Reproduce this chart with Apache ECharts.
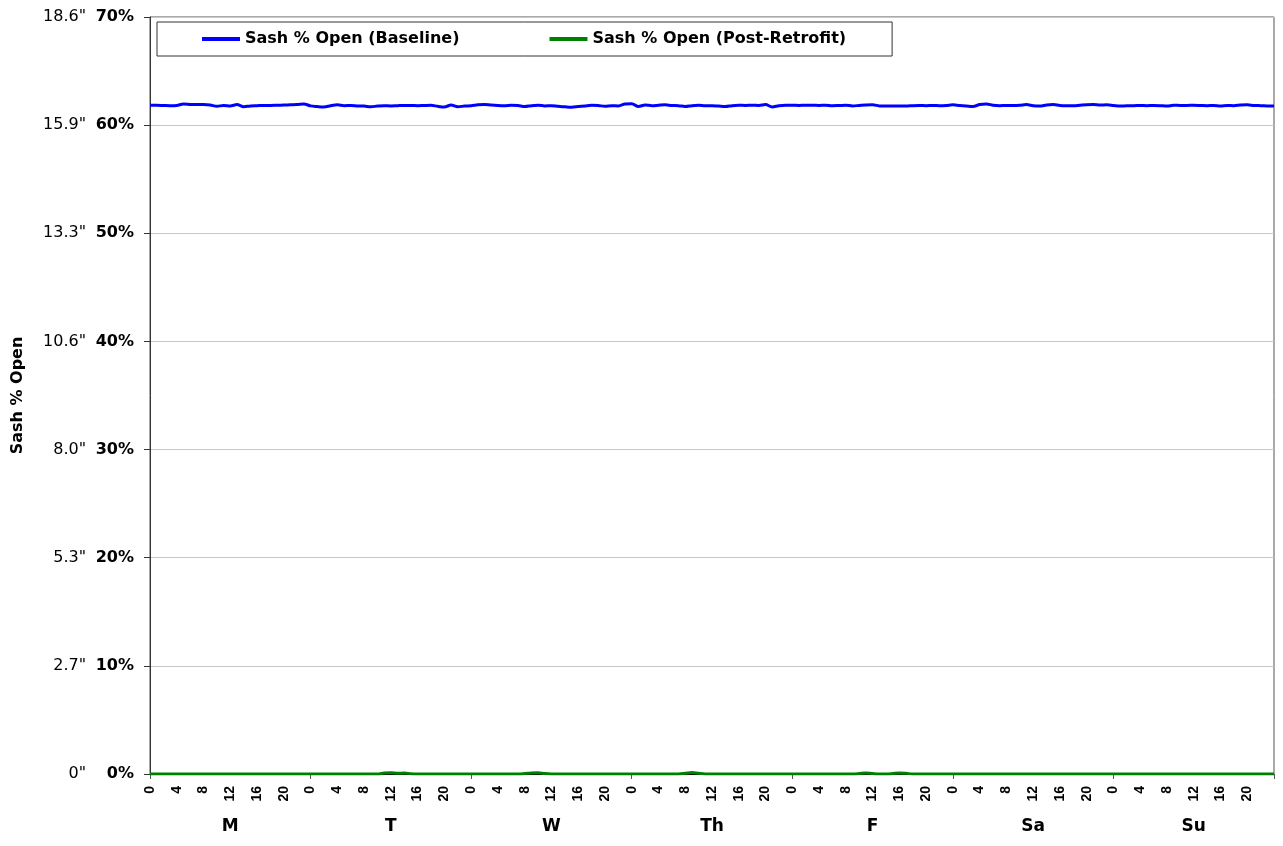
<!DOCTYPE html>
<html><head><meta charset="utf-8">
<script src="https://cdn.jsdelivr.net/npm/echarts@6/dist/echarts.min.js"></script>
<style>html,body{margin:0;padding:0;background:#fff}#c{width:1283px;height:846px}</style>
</head><body><div id="c"></div>
<script>
const days = ['M','T','W','Th','F','Sa','Su'];
const inchLabels = ['0"','2.7"','5.3"','8.0"','10.6"','13.3"','15.9"','18.6"'];
const seriesNames = ['Sash % Open (Baseline)','Sash % Open (Post-Retrofit)'];
// hourly values, hour 0 (Monday 0:00) .. hour 168 (end of Sunday)
const baseline = [
 61.84,61.84,61.82,61.80,61.82,61.96,61.92,61.90,61.90,61.86,61.74,61.82,61.78,61.90,61.70,61.78,61.80,61.82,61.82,61.84,61.86,61.88,61.90,61.96,
 61.78,61.72,61.68,61.80,61.88,61.80,61.82,61.78,61.76,61.70,61.76,61.80,61.78,61.80,61.82,61.82,61.80,61.82,61.84,61.74,61.68,61.86,61.70,61.76,
 61.80,61.88,61.92,61.86,61.82,61.80,61.84,61.82,61.72,61.80,61.84,61.78,61.80,61.74,61.70,61.66,61.72,61.78,61.84,61.82,61.74,61.80,61.78,61.96,
 61.98,61.72,61.86,61.80,61.84,61.88,61.82,61.80,61.72,61.80,61.84,61.80,61.80,61.76,61.72,61.80,61.84,61.82,61.84,61.82,61.90,61.68,61.80,61.84,
 61.84,61.82,61.84,61.84,61.82,61.84,61.80,61.82,61.84,61.78,61.82,61.86,61.88,61.78,61.76,61.76,61.76,61.76,61.80,61.82,61.80,61.82,61.80,61.82,
 61.88,61.82,61.78,61.72,61.90,61.96,61.84,61.80,61.82,61.82,61.84,61.90,61.80,61.76,61.86,61.90,61.82,61.80,61.80,61.84,61.88,61.90,61.86,61.88,
 61.82,61.76,61.80,61.80,61.82,61.80,61.82,61.80,61.76,61.84,61.82,61.82,61.84,61.82,61.80,61.82,61.78,61.82,61.80,61.86,61.88,61.82,61.80,61.78,
 61.76
];
const postRetrofit = [
 0,0,0,0,0,0,0,0,0,0,0,0,0,0,0,0,0,0,0,0,0,0,0,0,
 0,0,0,0,0,0,0,0,0,0,0,0.10,0.12,0.06,0.10,0.02,0,0,0,0,0,0,0,0,
 0,0,0,0,0,0,0,0,0.04,0.10,0.12,0.04,0,0,0,0,0,0,0,0,0,0,0,0,
 0,0,0,0,0,0,0,0,0.06,0.14,0.06,0,0,0,0,0,0,0,0,0,0,0,0,0,
 0,0,0,0,0,0,0,0,0,0,0.04,0.10,0.04,0,0,0.04,0.10,0.06,0,0,0,0,0,0,
 0,0,0,0,0,0,0,0,0,0,0,0,0,0,0,0,0,0,0,0,0,0,0,0,
 0,0,0,0,0,0,0,0,0,0,0,0,0,0,0,0,0,0,0,0,0,0,0,0,
 0
];

const chart = echarts.init(document.getElementById('c'));
const font = '"DejaVu Sans", Verdana, sans-serif';
const narrow = '"Liberation Sans", Arial, sans-serif';
chart.setOption({
  animation: false,
  backgroundColor: '#fff',
  textStyle: {fontFamily: font},
  grid: {left: 150, right: 9, top: 17, bottom: 72, show: true, borderColor: '#555', borderWidth: 1},
  legend: {
    left: 157, top: 22, orient: 'horizontal',
    padding: [9, 46, 9, 45], itemGap: 90,
    borderColor: '#333', borderWidth: 1,
    icon: 'rect', itemWidth: 38, itemHeight: 4,
    textStyle: {fontFamily: font, fontWeight: 'bold', fontSize: 16, color: '#000'},
    data: seriesNames
  },
  xAxis: [
    {type: 'value', min: 0, max: 168, interval: 4,
     axisLine: {show: true, lineStyle: {color: '#000'}},
     axisTick: {show: false}, splitLine: {show: false},
     axisLabel: {rotate: 90, margin: 12, fontFamily: narrow, fontWeight: 'bold', fontSize: 14, color: '#000',
       formatter: v => v >= 168 ? '' : String(v % 24)}},
    {type: 'category', data: days, position: 'bottom', boundaryGap: true,
     axisLine: {show: false},
     axisTick: {show: true, length: 5, lineStyle: {color: '#555'}},
     axisLabel: {margin: 44, fontFamily: font, fontWeight: 'bold', fontSize: 17, color: '#000'}}
  ],
  yAxis: [
    {type: 'value', min: 0, max: 70, interval: 10, position: 'left',
     name: 'Sash % Open', nameLocation: 'middle', nameGap: 124, nameRotate: 90,
     nameTextStyle: {fontFamily: font, fontWeight: 'bold', fontSize: 16, color: '#000'},
     axisLine: {show: true, lineStyle: {color: '#333'}},
     axisTick: {show: true, length: 6, lineStyle: {color: '#333'}},
     splitLine: {show: true, lineStyle: {color: '#c8c8c8'}},
     axisLabel: {margin: 16, fontFamily: font, fontWeight: 'bold', fontSize: 16, color: '#000', formatter: '{value}%'}},
    {type: 'value', min: 0, max: 70, interval: 10, position: 'left',
     axisLine: {show: false}, axisTick: {show: false}, splitLine: {show: false},
     axisLabel: {margin: 64, fontFamily: font, fontSize: 16, color: '#000',
       formatter: v => inchLabels[Math.round(v / 10)]}}
  ],
  series: [
    {name: seriesNames[0], type: 'line', xAxisIndex: 0, yAxisIndex: 0, showSymbol: false, smooth: 0.3,
     color: '#0000ff', lineStyle: {width: 3, color: '#0000ff'},
     data: baseline.map((v, i) => [i, v])},
    {name: seriesNames[1], type: 'line', xAxisIndex: 0, yAxisIndex: 0, showSymbol: false, smooth: 0.3,
     color: '#008000', lineStyle: {width: 3, color: '#008000'}, z: 3,
     data: postRetrofit.map((v, i) => [i, v])}
  ]
});
</script></body></html>
